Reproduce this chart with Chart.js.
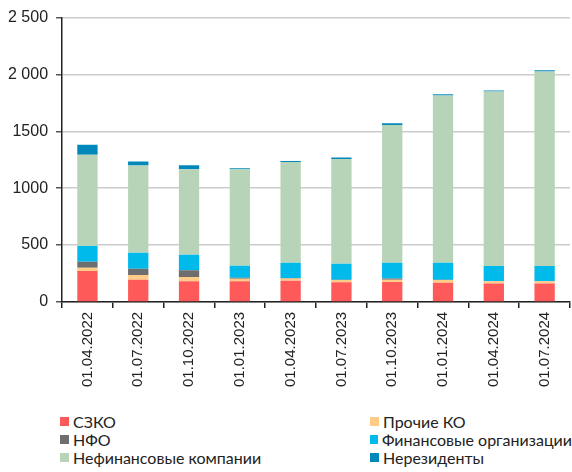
<!DOCTYPE html>
<html lang="ru">
<head>
    <meta charset="UTF-8">
    <title>Структура держателей</title>
    <style>
        body {
            margin: 0;
            background: #fff;
            width: 572px;
            height: 472px;
            overflow: hidden;
        }
        #wrap {
            position: relative;
            width: 572px;
            height: 391px;
        }
        #legend {
            position: absolute;
            top: 412px;
            left: 60px;
            width: 512px;
            display: grid;
            grid-template-columns: 310px 202px;
            font-family: Lato, sans-serif;
            font-size: 16px;
            color: #222;
        }
        .item {
            display: flex;
            align-items: center;
            height: 18.3px;
            white-space: nowrap;
        }
        .box {
            width: 9px;
            height: 9px;
            margin-right: 4px;
        }
    </style>
    <script src="https://cdn.jsdelivr.net/npm/chart.js"></script>
</head>
<body>
<div id="wrap"><canvas id="chart"></canvas></div>
<div id="legend"></div>
<script>
    const dates = ['01.04.2022', '01.07.2022', '01.10.2022', '01.01.2023', '01.04.2023',
        '01.07.2023', '01.10.2023', '01.01.2024', '01.04.2024', '01.07.2024'];

    const szko      = [272, 196, 181, 181, 187, 173, 175, 169, 161, 161];
    const otherKO   = [29, 41, 38, 23, 18, 20, 21, 24, 20, 20];
    const nfo       = [53, 55, 59, 9, 5, 3, 10, 3, 2, 2];
    const finOrg    = [137, 140, 137, 105, 135, 140, 139, 149, 133, 133];
    const nonFin    = [804, 767, 752, 849, 886, 921, 1210, 1471, 1535, 1710];
    const nonRes    = [88, 35, 35, 8, 9, 12, 15, 9, 9, 12];

    const yTicks = [0, 500, 1000, 1500, 2000, 2500];

    const series = [
        { label: 'СЗКО', data: szko, color: '#ff5a5a' },
        { label: 'Прочие КО', data: otherKO, color: '#ffcc88' },
        { label: 'НФО', data: nfo, color: '#6e6e6e' },
        { label: 'Финансовые организации', data: finOrg, color: '#00baec' },
        { label: 'Нефинансовые компании', data: nonFin, color: '#b8d4b8' },
        { label: 'Нерезиденты', data: nonRes, color: '#0088bb' }
    ];

    // legend in two columns, filled row by row
    const legendEl = document.getElementById('legend');
    series.forEach(s => {
        const item = document.createElement('div');
        item.className = 'item';
        item.innerHTML = '<span class="box" style="background:' + s.color + '"></span>' + s.label;
        legendEl.appendChild(item);
    });

    function fmt(v) {
        return v >= 2000 ? String(v).replace(/(\d)(\d{3})$/, '$1 $2') : String(v);
    }

    function draw() {
        const ctx = document.getElementById('chart').getContext('2d');
        new Chart(ctx, {
            type: 'bar',
            data: {
                labels: dates,
                datasets: series.map(s => ({
                    label: s.label,
                    data: s.data,
                    backgroundColor: s.color,
                    borderWidth: 0,
                    barPercentage: 0.4,
                    categoryPercentage: 1.0
                }))
            },
            options: {
                responsive: true,
                maintainAspectRatio: false,
                animation: false,
                layout: { padding: { top: 7, right: 2, left: 0, bottom: 0 } },
                plugins: {
                    legend: { display: false },
                    tooltip: { enabled: false }
                },
                scales: {
                    x: {
                        stacked: true,
                        grid: {
                            offset: true,
                            drawOnChartArea: false,
                            tickLength: 6,
                            tickColor: '#222',
                            lineWidth: 1.5
                        },
                        border: { color: '#222', width: 1.5 },
                        ticks: {
                            minRotation: 90,
                            maxRotation: 90,
                            padding: 4,
                            color: '#222',
                            font: { family: 'Arial', size: 15 }
                        }
                    },
                    y: {
                        stacked: true,
                        min: 0,
                        max: 2500,
                        afterBuildTicks: axis => {
                            axis.ticks = yTicks.map(v => ({ value: v }));
                        },
                        grid: {
                            color: '#cccccc',
                            lineWidth: 1.5,
                            tickLength: 6,
                            tickColor: '#555'
                        },
                        border: { color: '#222', width: 1.5 },
                        ticks: {
                            padding: 8,
                            color: '#222',
                            font: { family: 'Arial', size: 16 },
                            callback: v => fmt(v)
                        }
                    }
                }
            }
        });
    }

    document.fonts.load('15px Arial').then(draw, draw);
</script>
</body>
</html>
